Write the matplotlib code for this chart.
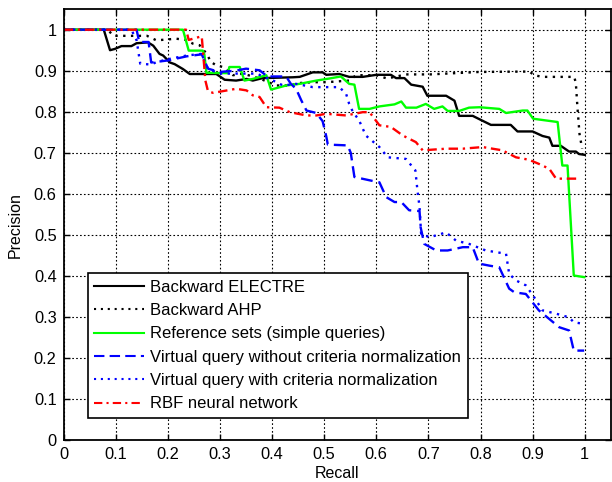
import numpy as np
import matplotlib
matplotlib.use('Agg')
import matplotlib.pyplot as plt

plt.rcParams['font.family'] = ['Liberation Sans', 'DejaVu Sans']

# Precision / recall values
electre_x = [0, 0.077, 0.089, 0.098, 0.111, 0.130, 0.140, 0.162, 0.172, 0.184, 0.191, 0.204, 0.213,
             0.229, 0.242, 0.267, 0.293, 0.309, 0.331, 0.351, 0.363, 0.382, 0.44, 0.453, 0.478, 0.497,
             0.504, 0.529, 0.548, 0.574, 0.6, 0.628, 0.638, 0.654, 0.667, 0.689, 0.698, 0.734, 0.75,
             0.759, 0.785, 0.804, 0.82, 0.858, 0.871, 0.9, 0.919, 0.932, 0.938, 0.954, 0.97, 0.983,
             0.989, 1.0]
electre_y = [1, 1, 0.95, 0.953, 0.96, 0.96, 0.967, 0.969, 0.961, 0.941, 0.937, 0.92, 0.916,
             0.904, 0.892, 0.892, 0.892, 0.878, 0.876, 0.88, 0.876, 0.882, 0.884, 0.885, 0.896, 0.896,
             0.89, 0.892, 0.885, 0.885, 0.89, 0.89, 0.882, 0.882, 0.866, 0.861, 0.839, 0.839, 0.827,
             0.79, 0.79, 0.778, 0.768, 0.768, 0.752, 0.752, 0.741, 0.737, 0.717, 0.717, 0.703, 0.703,
             0.697, 0.695]

ahp_x = [0, 0.085, 0.095, 0.16, 0.178, 0.197, 0.216, 0.235, 0.248, 0.261, 0.274, 0.283, 0.293,
         0.306, 0.325, 0.344, 0.376, 0.408, 0.434, 0.453, 0.478, 0.504, 0.548, 0.561, 0.6, 0.621,
         0.657, 0.703, 0.798, 0.894, 0.903, 0.919, 0.98, 0.983, 0.986, 0.99, 0.995]
ahp_y = [1, 1, 0.985, 0.985, 0.974, 0.976, 0.978, 0.975, 0.966, 0.962, 0.942, 0.921, 0.913,
         0.909, 0.889, 0.893, 0.881, 0.864, 0.864, 0.870, 0.872, 0.872, 0.876, 0.889, 0.889, 0.881,
         0.891, 0.891, 0.897, 0.898, 0.889, 0.885, 0.885, 0.869, 0.811, 0.746, 0.71]

ref_x = [0, 0.229, 0.240, 0.267, 0.270, 0.274, 0.315, 0.318, 0.338, 0.347, 0.363, 0.389, 0.398,
         0.427, 0.453, 0.485, 0.510, 0.532, 0.548, 0.558, 0.567, 0.587, 0.606, 0.635, 0.648, 0.657,
         0.677, 0.695, 0.711, 0.727, 0.737, 0.759, 0.778, 0.798, 0.836, 0.849, 0.881, 0.890, 0.901,
         0.948, 0.957, 0.967, 0.979, 0.999]
ref_y = [1, 1, 0.949, 0.949, 0.94, 0.895, 0.894, 0.909, 0.909, 0.876, 0.880, 0.889, 0.854,
         0.864, 0.868, 0.876, 0.881, 0.886, 0.868, 0.866, 0.807, 0.807, 0.813, 0.818, 0.825, 0.810,
         0.810, 0.819, 0.807, 0.813, 0.802, 0.802, 0.810, 0.811, 0.807, 0.797, 0.803, 0.803, 0.783,
         0.775, 0.669, 0.669, 0.401, 0.397]

vq_x = [0, 0.14, 0.145, 0.163, 0.168, 0.2, 0.236, 0.265, 0.277, 0.299, 0.33, 0.35, 0.376, 0.391,
        0.427, 0.436, 0.446, 0.456, 0.466, 0.485, 0.497, 0.504, 0.507, 0.545, 0.551, 0.558, 0.587,
        0.606, 0.619, 0.635, 0.648, 0.663, 0.683, 0.685, 0.692, 0.715, 0.737, 0.766, 0.785, 0.797,
        0.817, 0.836, 0.855, 0.865, 0.887, 0.912, 0.932, 0.951, 0.970, 0.979, 0.999]
vq_y = [1, 1, 0.97, 0.97, 0.92, 0.925, 0.935, 0.94, 0.905, 0.897, 0.9, 0.905, 0.901, 0.886,
        0.886, 0.868, 0.856, 0.828, 0.803, 0.797, 0.777, 0.74, 0.72, 0.718, 0.70, 0.641, 0.633,
        0.628, 0.592, 0.580, 0.580, 0.560, 0.558, 0.519, 0.478, 0.462, 0.462, 0.470, 0.470, 0.430,
        0.425, 0.421, 0.369, 0.360, 0.356, 0.316, 0.295, 0.275, 0.267, 0.218, 0.218]

vqn_x = [0, 0.13, 0.14, 0.147, 0.168, 0.178, 0.204, 0.236, 0.264, 0.277, 0.299, 0.35, 0.37, 0.402,
         0.421, 0.446, 0.478, 0.529, 0.542, 0.548, 0.555, 0.567, 0.580, 0.606, 0.622, 0.657, 0.675,
         0.679, 0.683, 0.686, 0.702, 0.734, 0.753, 0.778, 0.810, 0.849, 0.855, 0.868, 0.887, 0.903,
         0.919, 0.945, 0.970, 0.979, 0.999]
vqn_y = [1, 1, 0.974, 0.917, 0.915, 0.921, 0.929, 0.937, 0.941, 0.905, 0.893, 0.893, 0.893, 0.876,
         0.864, 0.868, 0.86, 0.86, 0.844, 0.819, 0.80, 0.779, 0.742, 0.714, 0.689, 0.685, 0.657,
         0.608, 0.568, 0.503, 0.494, 0.506, 0.486, 0.478, 0.462, 0.454, 0.405, 0.389, 0.377, 0.348,
         0.316, 0.308, 0.299, 0.287, 0.283]

rbf_x = [0, 0.235, 0.24, 0.265, 0.272, 0.277, 0.287, 0.331, 0.351, 0.363, 0.376, 0.389, 0.414,
         0.434, 0.466, 0.485, 0.504, 0.542, 0.574, 0.587, 0.606, 0.628, 0.651, 0.676, 0.689, 0.734,
         0.766, 0.804, 0.842, 0.868, 0.893, 0.912, 0.932, 0.945, 0.989]
rbf_y = [1, 1, 0.975, 0.984, 0.876, 0.850, 0.846, 0.856, 0.852, 0.840, 0.836, 0.811, 0.810,
         0.799, 0.791, 0.791, 0.795, 0.791, 0.799, 0.799, 0.767, 0.763, 0.742, 0.726, 0.706, 0.710,
         0.710, 0.714, 0.706, 0.689, 0.683, 0.673, 0.661, 0.637, 0.637]

labels = ['Backward ELECTRE', 'Backward AHP', 'Reference sets (simple queries)',
          'Virtual query without criteria normalization',
          'Virtual query with criteria normalization', 'RBF neural network']

ticks = np.arange(0, 1.01, 0.1)
tick_labels = ['0', '0.1', '0.2', '0.3', '0.4', '0.5', '0.6', '0.7', '0.8', '0.9', '1']

fig = plt.figure(figsize=(6.12, 4.82), dpi=100)
ax = fig.add_axes([0.104, 0.087, 0.894, 0.894])

lw = 1.7
dots = (0, (1, 2.3))
ax.plot(electre_x, electre_y, '-', color='k', lw=lw, label=labels[0])
ax.plot(ahp_x, ahp_y, color='k', lw=lw, linestyle=dots, label=labels[1])
ax.plot(ref_x, ref_y, '-', color=(0, 1, 0), lw=lw, label=labels[2])
ax.plot(vq_x, vq_y, color='b', lw=lw, linestyle=(0, (5, 2.5)), label=labels[3])
ax.plot(vqn_x, vqn_y, color='b', lw=lw, linestyle=dots, label=labels[4])
ax.plot(rbf_x, rbf_y, color='r', lw=lw, linestyle=(0, (4, 2, 1, 2)), label=labels[5])

ax.set_xlim(0, 1.05)
ax.set_ylim(0, 1.05)
ax.set_xticks(ticks)
ax.set_xticklabels(tick_labels)
ax.set_yticks(ticks)
ax.set_yticklabels(tick_labels)
ax.tick_params(direction='in', top=True, right=True, length=4, width=1, labelsize=11.8, pad=5)
ax.grid(True, color='k', linestyle=(0, (1.5, 2)), linewidth=0.8)
for s in ax.spines.values():
    s.set_linewidth(1.3)

ax.set_xlabel('Recall', fontsize=11.5, labelpad=3)
ax.set_ylabel('Precision', fontsize=11.5, labelpad=8)

leg = ax.legend(loc='lower left', bbox_to_anchor=(0.044, 0.051), fontsize=12,
                handlelength=3.0, handletextpad=0.35, labelspacing=0.5, borderpad=0.4,
                borderaxespad=0, fancybox=False, framealpha=1, edgecolor='k')
leg.get_frame().set_linewidth(1.2)
for h in leg.get_lines():
    h.set_linewidth(1.5)

fig.savefig('out.png', dpi=100)
